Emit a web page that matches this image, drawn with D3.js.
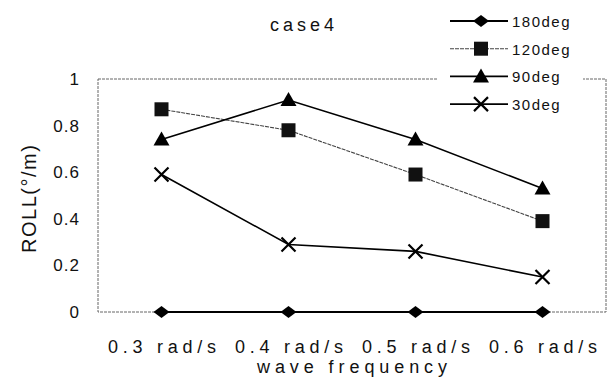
<!DOCTYPE html>
<html>
<head>
<meta charset="utf-8">
<script src="https://cdn.jsdelivr.net/npm/d3@7"></script>
<style>
  body { margin: 0; background: #fff; }
  svg { display: block; font-family: "Liberation Sans", Arial, sans-serif; }
</style>
</head>
<body>
<div id="chart"></div>
<script>
// data
const categories = ['0.3 rad/s', '0.4 rad/s', '0.5 rad/s', '0.6 rad/s'];
const seriesNames = ['180deg', '120deg', '90deg', '30deg'];
const values180 = [0, 0, 0, 0];
const values120 = [0.87, 0.78, 0.59, 0.39];
const values90 = [0.74, 0.91, 0.74, 0.53];
const values30 = [0.59, 0.29, 0.26, 0.15];
const yTicks = [0, 0.2, 0.4, 0.6, 0.8, 1];

const width = 609, height = 380;
const plot = { left: 98, right: 606, top: 79, bottom: 312 };

const series = [
  { name: seriesNames[0], values: values180, marker: 'diamond', color: '#000', lw: 2 },
  { name: seriesNames[1], values: values120, marker: 'square', color: '#444', lw: 1.1, dash: '4,1' },
  { name: seriesNames[2], values: values90, marker: 'triangle', color: '#000', lw: 1.6 },
  { name: seriesNames[3], values: values30, marker: 'cross', color: '#000', lw: 1.6 }
];

const svg = d3.select('#chart').append('svg')
    .attr('width', width)
    .attr('height', height);

const x = d3.scalePoint()
    .domain(categories)
    .range([plot.left, plot.right])
    .padding(0.5);

const y = d3.scaleLinear()
    .domain([0, 1])
    .range([plot.bottom, plot.top]);

// plot frame (faint, scanned look)
svg.append('rect')
    .attr('x', plot.left)
    .attr('y', plot.top)
    .attr('width', plot.right - plot.left)
    .attr('height', plot.bottom - plot.top)
    .attr('fill', 'none')
    .attr('stroke', '#666')
    .attr('stroke-width', 1)
    .attr('stroke-dasharray', '3,1');

// y axis labels
const yAxis = d3.axisLeft(y)
    .tickValues(yTicks)
    .tickSize(0)
    .tickPadding(0)
    .tickFormat(d3.format('~g'));

const gy = svg.append('g')
    .attr('transform', 'translate(80,0)')
    .call(yAxis);
gy.select('.domain').remove();
gy.selectAll('text')
    .attr('font-size', 17)
    .attr('letter-spacing', 1)
    .attr('fill', '#111')
    .attr('font-family', '"Liberation Sans", Arial, sans-serif');

// x axis labels
const xAxis = d3.axisBottom(x)
    .tickSize(0)
    .tickPadding(0);

const gx = svg.append('g')
    .attr('transform', `translate(0,${plot.bottom})`)
    .call(xAxis);
gx.select('.domain').remove();
gx.selectAll('text')
    .attr('dy', null)
    .attr('y', 41)
    .attr('font-size', 18)
    .attr('fill', '#111')
    .attr('textLength', 108)
    .attr('lengthAdjust', 'spacing')
    .attr('font-family', '"Liberation Sans", Arial, sans-serif');

// titles
svg.append('text')
    .attr('x', 304)
    .attr('y', 31)
    .attr('text-anchor', 'middle')
    .attr('font-size', 18)
    .attr('letter-spacing', 4)
    .attr('fill', '#111')
    .text('case4');

svg.append('text')
    .attr('x', 352)
    .attr('y', 373)
    .attr('text-anchor', 'middle')
    .attr('font-size', 18)
    .attr('fill', '#111')
    .attr('textLength', 190)
    .attr('lengthAdjust', 'spacing')
    .text('wave frequency');

svg.append('text')
    .attr('transform', 'translate(36,199) rotate(-90)')
    .attr('text-anchor', 'middle')
    .attr('font-size', 20)
    .attr('fill', '#111')
    .attr('textLength', 108)
    .attr('lengthAdjust', 'spacing')
    .text('ROLL(°/m)');

function drawMarker(g, type, cx, cy) {
  if (type === 'diamond') {
    g.append('path')
        .attr('d', `M${cx - 8},${cy} L${cx},${cy - 6} L${cx + 8},${cy} L${cx},${cy + 6} Z`)
        .attr('fill', '#000');
  } else if (type === 'square') {
    g.append('rect')
        .attr('x', cx - 7).attr('y', cy - 7)
        .attr('width', 14).attr('height', 14)
        .attr('fill', '#111');
  } else if (type === 'triangle') {
    g.append('path')
        .attr('d', `M${cx},${cy - 8} L${cx + 8},${cy + 6} L${cx - 8},${cy + 6} Z`)
        .attr('fill', '#000');
  } else {
    g.append('path')
        .attr('d', `M${cx - 7},${cy - 7} L${cx + 7},${cy + 7} M${cx - 7},${cy + 7} L${cx + 7},${cy - 7}`)
        .attr('stroke', '#000')
        .attr('stroke-width', 2.2)
        .attr('fill', 'none');
  }
}

const line = d3.line()
    .x((d, i) => x(categories[i]))
    .y((d) => y(d));

series.forEach((s) => {
  const g = svg.append('g');
  g.append('path')
      .datum(s.values)
      .attr('d', line)
      .attr('fill', 'none')
      .attr('stroke', s.color)
      .attr('stroke-width', s.lw)
      .attr('stroke-dasharray', s.dash || null);
  s.values.forEach((v, i) => drawMarker(g, s.marker, x(categories[i]), y(v)));
});

// legend
const legend = svg.append('g');
legend.append('rect')
    .attr('x', 438).attr('y', 4)
    .attr('width', 145).attr('height', 112)
    .attr('fill', '#fff');

series.forEach((s, i) => {
  const cy = 21 + i * 27.7;
  const g = legend.append('g');
  g.append('line')
      .attr('x1', 450).attr('x2', 508)
      .attr('y1', cy).attr('y2', cy)
      .attr('stroke', s.color)
      .attr('stroke-width', s.lw)
      .attr('stroke-dasharray', s.dash || null);
  drawMarker(g, s.marker, 481, cy);
  g.append('text')
      .attr('x', 512)
      .attr('y', cy + 6)
      .attr('font-size', 15)
      .attr('letter-spacing', 1.5)
      .attr('fill', '#111')
      .text(s.name);
});
</script>
</body>
</html>
